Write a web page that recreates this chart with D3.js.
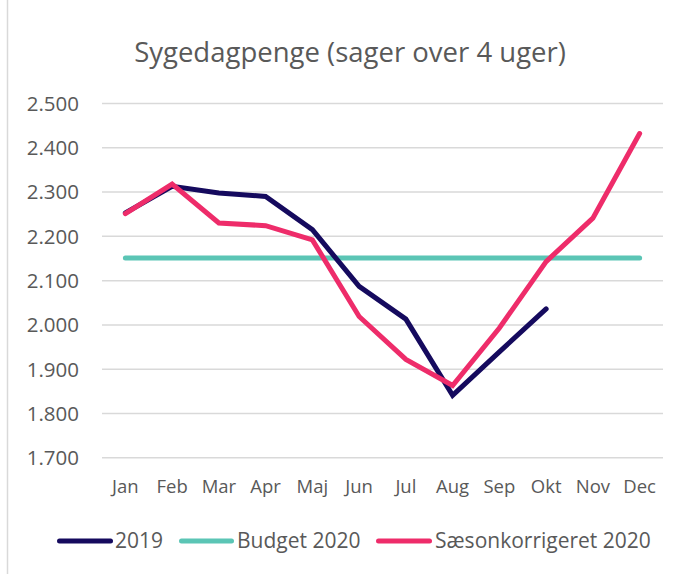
<!DOCTYPE html>
<html><head><meta charset="utf-8">
<script src="https://cdn.jsdelivr.net/npm/d3@7"></script>
<style>body{margin:0;background:#fff}svg{display:block}text{font-family:"Open Sans",sans-serif;fill:#595959}</style>
</head><body>
<svg id="c" width="682" height="574"></svg>
<script>
const months = ["Jan","Feb","Mar","Apr","Maj","Jun","Jul","Aug","Sep","Okt","Nov","Dec"];
const yTicks = [1700,1800,1900,2000,2100,2200,2300,2400,2500];
const s2019 = [2252,2312,2297,2289,2214,2086,2012,1840,1938,2035];
const budget2020 = [2150,2150,2150,2150,2150,2150,2150,2150,2150,2150,2150,2150];
const saeson2020 = [2250,2317,2229,2223,2191,2018,1921,1862,1992,2142,2240,2431];
const seriesNames = ["2019","Budget 2020","Sæsonkorrigeret 2020"];
const colors = ["#150a5e","#5bc5b5","#ee2c6a"];

const svg = d3.select("#c");
const x = d3.scaleBand().domain(months).range([102,663]);
const y = d3.scaleLinear().domain([1700,2500]).range([457.3,103]);
const fmt = v => d3.format(",")(v).replace(",", ".");

svg.append("line").attr("x1",7.5).attr("x2",7.5).attr("y1",0).attr("y2",574).attr("stroke","#d9d9d9").attr("stroke-width",1.5);

svg.append("text").attr("x",350).attr("y",62).attr("text-anchor","middle").style("font-size","27.5px").text("Sygedagpenge (sager over 4 uger)");

const yAxis = svg.append("g").attr("transform","translate(102,0)")
  .call(d3.axisLeft(y).tickValues(yTicks).tickSize(-(663-102)).tickFormat(fmt).tickPadding(23));
yAxis.select(".domain").remove();
yAxis.selectAll(".tick line").attr("stroke","#d9d9d9").attr("stroke-width",1.5);
yAxis.selectAll(".tick text").style("font-size","20.5px").style("fill","#595959").attr("dy","0.36em");

const xAxis = svg.append("g").attr("transform","translate(0,457.3)")
  .call(d3.axisBottom(x).tickSize(0).tickPadding(23));
xAxis.select(".domain").remove();
xAxis.selectAll(".tick text").style("font-size","18.5px").style("fill","#595959");

const line = d3.line().x((d,i)=>x(months[i])+x.bandwidth()/2).y(d=>y(d));
const drawOrder = [[budget2020,1],[s2019,0],[saeson2020,2]];
drawOrder.forEach(([data,k])=>{
  svg.append("path").datum(data).attr("d",line).attr("fill","none")
    .attr("stroke",colors[k]).attr("stroke-width",5)
    .attr("stroke-linecap","round").attr("stroke-linejoin","miter");
});

const legX = [[57,113,115],[179,234,237],[376,432,435]];
seriesNames.forEach((n,k)=>{
  svg.append("line").attr("x1",legX[k][0]+2.5).attr("x2",legX[k][1]-2.5).attr("y1",541).attr("y2",541)
    .attr("stroke",colors[k]).attr("stroke-width",5).attr("stroke-linecap","round");
  svg.append("text").attr("x",legX[k][2]).attr("y",548).style("font-size","21px").text(n);
});
</script>
</body></html>
